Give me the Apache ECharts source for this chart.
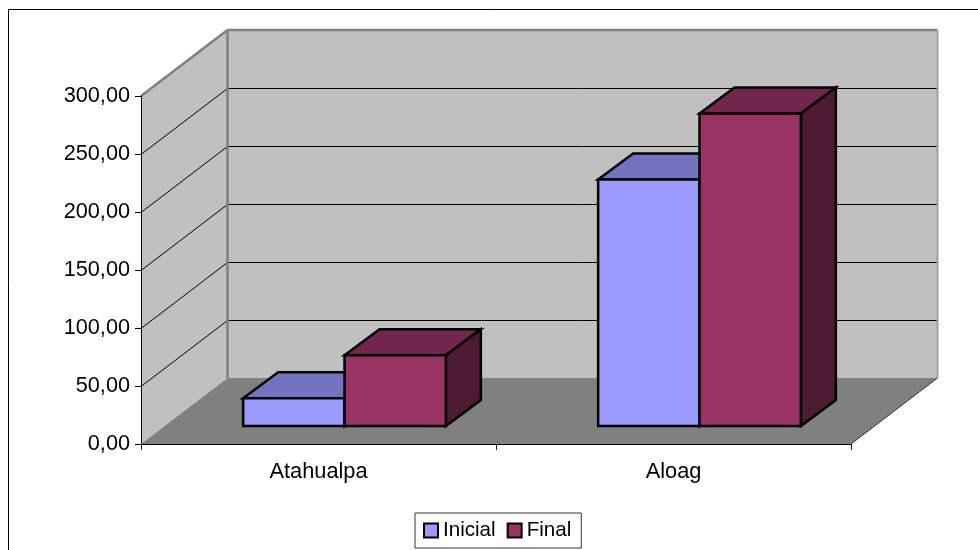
<!DOCTYPE html>
<html>
<head>
<meta charset="utf-8">
<script src="https://cdn.jsdelivr.net/npm/echarts@6/dist/echarts.min.js"></script>
<style>html,body{margin:0;padding:0;background:#fff;overflow:hidden}#c{width:978px;height:550px}</style>
</head>
<body>
<div id="c"></div>
<script>
const categories = ["Atahualpa", "Aloag"];
const inicial = [24, 212.5];
const final_ = [61, 269.5];
const yTicks = [50, 100, 150, 200, 250];
const seriesNames = ["Inicial", "Final"];

const FONT = '"Liberation Sans", Arial, sans-serif';
const WALL_DX = 86.5, WALL_DY = -66;      // full depth of the chart box
const BAR_FRONT_DX = 26, BAR_FRONT_DY = -18; // bars stand this far behind the front edge
const BAR_DX = 35, BAR_DY = -26;          // depth of a bar
const BAR_BAND = 0.2855;                  // bar width as part of the category band

function poly(points, fill, stroke, lineWidth) {
  return { type: 'polygon', shape: { points },
    style: { fill: fill, stroke: stroke || null, lineWidth: lineWidth || 0, lineJoin: 'miter' } };
}
function line(a, b, stroke, lineWidth) {
  return { type: 'line', shape: { x1: a[0], y1: a[1], x2: b[0], y2: b[1] },
    style: { stroke, lineWidth, fill: null } };
}

function renderBox(params, api) {
  const g = params.coordSys;
  const L = g.x, R = g.x + g.width, T = g.y, B = g.y + g.height;
  const dx = WALL_DX, dy = WALL_DY;
  const kids = [];
  kids.push(poly([[L + dx, T + dy], [R + dx, T + dy], [R + dx, B + dy], [L + dx, B + dy]], '#C0C0C0'));
  kids.push(poly([[L, T], [L + dx, T + dy], [L + dx, B + dy], [L, B]], '#C0C0C0'));
  kids.push(poly([[L, B], [R, B], [R + dx, B + dy], [L + dx, B + dy]], '#808080'));
  yTicks.forEach(v => {
    const y = Math.round(api.coord([0, v])[1]) + 0.5;
    kids.push(line([L, y], [L + dx, y + dy], '#000', 1));
    kids.push(line([L + dx, y + dy], [R + dx, y + dy], '#000', 1));
  });
  kids.push(line([L, T], [L + dx, T + dy], '#808080', 2.5));
  kids.push(line([L + dx, T + dy], [R + dx, T + dy], '#808080', 2.5));
  kids.push(line([L + dx, T + dy], [L + dx, B + dy], '#808080', 2.5));
  kids.push(line([R + dx, T + dy], [R + dx, B + dy], '#A0A0A0', 2));
  kids.push(line([R, B], [R + dx, B + dy], '#333', 1));
  return { type: 'group', children: kids };
}

function barSeries(name, values, front, top, side, dir) {
  return {
    name, type: 'custom', z: 3, clip: false,
    itemStyle: { color: front, borderColor: '#000', borderWidth: 2.5 },
    encode: { x: 0, y: 1 },
    data: values.map((v, i) => [i, v]),
    renderItem(params, api) {
      const p = api.coord([api.value(0), api.value(1)]);
      const p0 = api.coord([api.value(0), 0]);
      const w = api.size([1, 0])[0] * BAR_BAND;
      const cx = p[0] + BAR_FRONT_DX;
      const x0 = dir < 0 ? cx - w : cx, x1 = dir < 0 ? cx : cx + w;
      const yb = p0[1] + BAR_FRONT_DY, yt = p[1] + BAR_FRONT_DY;
      const lw = 2.5;
      return { type: 'group', children: [
        poly([[x0, yt], [x1, yt], [x1 + BAR_DX, yt + BAR_DY], [x0 + BAR_DX, yt + BAR_DY]], top, '#000', lw),
        poly([[x1, yt], [x1 + BAR_DX, yt + BAR_DY], [x1 + BAR_DX, yb + BAR_DY], [x1, yb]], side, '#000', lw),
        poly([[x0, yt], [x1, yt], [x1, yb], [x0, yb]], front, '#000', lw)
      ] };
    }
  };
}

const chart = echarts.init(document.getElementById('c'), null, { renderer: 'canvas' });
chart.setOption({
  animation: false,
  backgroundColor: '#fff',
  textStyle: { fontFamily: FONT },
  graphic: [{ type: 'rect', z: -1, silent: true,
    shape: { x: 8.5, y: 9.5, width: 2000, height: 2000 },
    style: { fill: null, stroke: '#000', lineWidth: 1 } }],
  grid: { left: 141, right: 127, top: 96, bottom: 106, containLabel: false },
  xAxis: {
    type: 'category', data: categories, z: 5,
    axisLine: { show: true, lineStyle: { color: '#000', width: 1 } },
    axisTick: { show: true, length: 6, alignWithLabel: false, lineStyle: { color: '#222', width: 1 } },
    axisLabel: { color: '#000', fontSize: 21.8, fontFamily: FONT, margin: 17 }
  },
  yAxis: {
    type: 'value', min: 0, max: 300, interval: 50, z: 5,
    axisLine: { show: true, lineStyle: { color: '#000', width: 1 } },
    axisTick: { show: true, length: 6, lineStyle: { color: '#000', width: 1 } },
    splitLine: { show: false },
    axisLabel: { color: '#000', fontSize: 21.7, fontFamily: FONT, margin: 11, padding: [4, 0, 0, 0],
      formatter: v => v.toFixed(2).replace('.', ',') }
  },
  legend: {
    data: seriesNames, left: 415, top: 513, orient: 'horizontal',
    padding: [7, 10, 7, 8], itemGap: 11, itemWidth: 14, itemHeight: 14,
    borderColor: '#333', borderWidth: 1, backgroundColor: '#fff',
    icon: 'rect',
    textStyle: { color: '#000', fontSize: 20.6, fontFamily: FONT, padding: [0, 0, 0, 0] }
  },
  series: [
    { name: 'box', type: 'custom', z: 1, silent: true, clip: false, encode: { x: 0, y: 1 },
      data: [[0, 0]], renderItem: renderBox },
    barSeries(seriesNames[0], inicial, '#9999FF', '#7373BF', '#4D4D80', -1),
    barSeries(seriesNames[1], final_, '#993366', '#73264D', '#4D1A33', 1)
  ]
});
</script>
</body>
</html>
